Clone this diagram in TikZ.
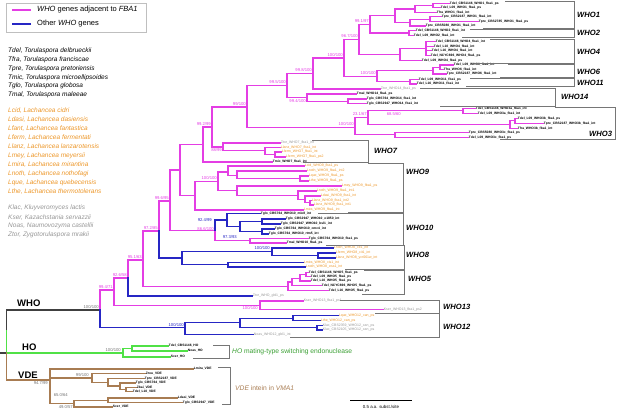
\documentclass[tikz,border=0pt]{standalone}
\usepackage{fontspec}
\setmainfont{Liberation Sans}
\usetikzlibrary{positioning}
\definecolor{fbapink}{RGB}{228,62,228}
\definecolor{whoblue}{RGB}{38,38,196}
\definecolor{hogreen}{RGB}{80,225,70}
\definecolor{vdebrown}{RGB}{168,124,82}
\definecolor{lachorange}{RGB}{236,150,40}
\definecolor{othergray}{RGB}{150,150,150}
\definecolor{boxgray}{RGB}{118,118,118}
\tikzstyle{fbabranch}=[draw=fbapink, line width=1.3pt, line cap=rect]
\tikzstyle{otherbranch}=[draw=whoblue, line width=1.3pt, line cap=rect]
\tikzstyle{hobranch}=[draw=hogreen, line width=1.3pt, line cap=rect]
\tikzstyle{vdebranch}=[draw=vdebrown, line width=1.3pt, line cap=rect]
\tikzstyle{stem}=[draw=black!75, line width=1.3pt, line cap=rect]
\tikzstyle{leaf}=[anchor=west, inner sep=0.7pt, text=black, font=\fontsize{3.3}{4}\selectfont\bfseries]
\tikzstyle{lach}=[text=lachorange, font=\fontsize{3.5}{4}\selectfont]
\tikzstyle{outg}=[text=othergray, font=\fontsize{3.5}{4}\selectfont]
\tikzstyle{support}=[anchor=south east, inner sep=0pt, font=\fontsize{4.2}{4.5}\selectfont]
\tikzstyle{pinkval}=[text=fbapink]
\tikzstyle{blueval}=[text=whoblue]
\tikzstyle{grayval}=[text=black!55]
\tikzstyle{cladebox}=[draw=boxgray, line width=0.9pt]
\tikzstyle{cladename}=[anchor=west, inner sep=0pt, font=\fontsize{7.6}{8}\selectfont\bfseries\itshape]
\tikzstyle{bigname}=[anchor=west, inner sep=0pt, font=\fontsize{9.5}{10}\selectfont\bfseries]
\tikzstyle{keytext}=[anchor=west, inner sep=0pt, font=\fontsize{7.5}{8}\selectfont]
\tikzstyle{species}=[anchor=west, inner sep=0pt, font=\fontsize{6.5}{7}\selectfont\itshape]

\begin{document}
\begin{tikzpicture}[x=1pt,y=-1pt]
\useasboundingbox (0,0) rectangle (617,411);

\draw[draw=black!25, line width=0.6pt] (6,3) rectangle (146,32);
\begin{scope}[every node/.style={keytext}]
    \node (keyfba) at (37,10) {\textit{WHO} genes adjacent to \textit{FBA1}};
    \node (keyother) at (37,24) {Other \textit{WHO} genes};
\end{scope}
\draw[fbabranch, line cap=butt] ([xshift=-6pt]keyfba.west) -- ++(-19,0);
\draw[otherbranch, line cap=butt] ([xshift=-6pt]keyother.west) -- ++(-19,0);

\begin{scope}[every node/.style={species}]
    \node (sp1) at (8,51) {Tdel, Torulaspora delbrueckii};
    \node (sp2) at (8,59.8) {Tfra, Torulaspora franciscae};
    \node (sp3) at (8,68.6) {Tpre, Torulaspora pretoriensis};
    \node (sp4) at (8,77.4) {Tmic, Torulaspora microellipsoides};
    \node (sp5) at (8,86.2) {Tglo, Torulaspora globosa};
    \node (sp6) at (8,95) {Tmal, Torulaspora maleeae};
\end{scope}
\begin{scope}[every node/.style={species, text=lachorange}]
    \node (sp7) at (8,111) {Lcid, Lachancea cidri};
    \node (sp8) at (8,120) {Ldasi, Lachancea dasiensis};
    \node (sp9) at (8,129) {Lfant, Lachancea fantastica};
    \node (sp10) at (8,138) {Lferm, Lachancea fermentati};
    \node (sp11) at (8,147) {Llanz, Lachancea lanzarotensis};
    \node (sp12) at (8,156) {Lmey, Lachancea meyersii};
    \node (sp13) at (8,165) {Lmira, Lachancea mirantina};
    \node (sp14) at (8,174) {Lnoth, Lachancea nothofagi};
    \node (sp15) at (8,183) {Lque, Lachancea quebecensis};
    \node (sp16) at (8,192) {Lthe, Lachancea thermotolerans};
\end{scope}
\begin{scope}[every node/.style={species, text=othergray}]
    \node (sp17) at (8,208.3) {Klac, Kluyveromyces lactis};
    \node (sp18) at (8,217.3) {Kser, Kazachstania servazzii};
    \node (sp19) at (8,226.3) {Noas, Naumovozyma castellii};
    \node (sp20) at (8,235.3) {Ztor, Zygotorulaspora mrakii};
\end{scope}

\coordinate (root) at (0,353);
\coordinate (rwh) at (6.5,331);
\coordinate (rvde) at (6.5,353);
\coordinate (nwho) at (100,310);
\coordinate (nho) at (123,353);
\coordinate (nhob) at (132,348.5);
\coordinate (v0) at (50,380);
\coordinate (v2) at (92,378);
\coordinate (v3) at (108,382.5);
\coordinate (v3b) at (120,386);
\coordinate (v3c) at (126,389.4);
\coordinate (v4) at (74,403.5);
\coordinate (v5) at (108,400.2);
\coordinate (b1) at (114,290);
\coordinate (b2) at (128,278);
\coordinate (b3) at (143,260);
\coordinate (b4) at (159,231);
\coordinate (b5) at (170,201);
\coordinate (b6) at (180,170);
\coordinate (b7) at (195,195.7);
\coordinate (x203) at (203,144.5);
\coordinate (x212) at (212,127);
\coordinate (t0) at (247,107);
\coordinate (t1) at (287,85.5);
\coordinate (t2) at (313,73.5);
\coordinate (t3) at (344,58);
\coordinate (t4) at (359,39.5);
\coordinate (t6) at (370,24.4);
\coordinate (t5) at (377,76.3);
\coordinate (w1) at (395,15.7);
\coordinate (w1a) at (415,8.9);
\coordinate (w1c) at (433,5.7);
\coordinate (w1b) at (410,22.5);
\coordinate (w1e) at (430,19.2);
\coordinate (w2) at (409,33);
\coordinate (w4) at (400,54.7);
\coordinate (w4a) at (426,48.6);
\coordinate (w6) at (433,70.6);
\coordinate (w6a) at (440,67.2);
\coordinate (w11) at (410,81.7);
\coordinate (w14) at (307,97.6);
\coordinate (w14a) at (348,101.4);
\coordinate (w3) at (355,127.5);
\coordinate (w3p) at (368,117.6);
\coordinate (w3a) at (463,110.8);
\coordinate (w3b) at (510,124.5);
\coordinate (w3bb) at (515,120.8);
\coordinate (w3c) at (395,134.8);
\coordinate (w7a) at (223,147);
\coordinate (w7b) at (265,150.7);
\coordinate (w7c) at (275,154.5);
\coordinate (w9) at (218,181.5);
\coordinate (w9a) at (228,172);
\coordinate (w9c) at (237,175.6);
\coordinate (w9d) at (300,178.5);
\coordinate (w9b) at (237,190.6);
\coordinate (w9e) at (298,195.2);
\coordinate (w9f) at (305,199.4);
\coordinate (w9g) at (310,202.7);
\coordinate (w10) at (215,230.3);
\coordinate (w10b) at (227,220);
\coordinate (w10c) at (240,226.5);
\coordinate (w10d) at (262,221.5);
\coordinate (w10e) at (262,231.5);
\coordinate (w10m) at (250,240.7);
\coordinate (w8) at (182,258);
\coordinate (w8a) at (272,251.5);
\coordinate (w8c) at (318,255.5);
\coordinate (w8b) at (228,264.7);
\coordinate (w5) at (288,286.5);
\coordinate (w5a) at (292,282);
\coordinate (w5b) at (300,278.2);
\coordinate (w5c) at (306,274.5);
\coordinate (w13) at (260,305.2);
\coordinate (w12) at (185,327.5);
\coordinate (w12a) at (240,322.5);
\coordinate (w12b) at (293,318.2);
\coordinate (w12c) at (317,327.6);

\begin{scope}[every node/.style={leaf}]
    \node (l1a) at (449,3.5) {Tdel\_CBS1146\_WHO1\_fba1\_ps};
    \node (l1b) at (440,7.8) {Tdel\_L09\_WHO1\_fba1\_ps};
    \node (l1c) at (436,12.2) {Tfra\_WHO1\_fba1\_int};
    \node (l1d) at (441,16.8) {Tpre\_CBS2187\_WHO1\_fba1\_int};
    \node (l1e) at (478,21.5) {Tpre\_CBS2785\_WHO1\_fba1\_ps};
    \node (l1f) at (425,26) {Tpre\_CBS5080\_WHO1\_fba1\_int};
    \node (l2a) at (415,30.7) {Tdel\_CBS1146\_WHO2\_fba1\_int};
    \node (l2b) at (413,35.3) {Tdel\_L09\_WHO2\_fba1\_int};
    \node (l4a) at (435,41.7) {Tdel\_CBS1146\_WHO4\_fba1\_int};
    \node (l4b) at (433,46.2) {Tdel\_L10\_WHO4\_fba1\_int};
    \node (l4c) at (431,50.8) {Tdel\_L16\_WHO4\_fba1\_int};
    \node (l4d) at (430,55.5) {Tdel\_NCYC696\_WHO4\_fba1\_ps};
    \node (l4e) at (421,60.8) {Tdel\_L09\_WHO4\_fba1\_ps};
    \node (l6a) at (453,65) {Tdel\_L09\_WHO6\_fba1\_int};
    \node (l6b) at (443,69.5) {Tfra\_WHO6\_fba1\_int};
    \node (l6c) at (446,74) {Tpre\_CBS2187\_WHO6\_fba1\_int};
    \node (l11a) at (418,79.5) {Tdel\_L09\_WHO11\_fba1\_ps};
    \node (l11b) at (416,84) {Tdel\_L16\_WHO11\_fba1\_int};
    \node[outg] (l14a) at (380,89) {Ztor\_WHO14\_fba1\_ps};
    \node (l14b) at (356,94) {Tmal\_WHO14\_fba1\_ps};
    \node (l14c) at (366,99) {Tglo\_CBS764\_WHO14\_fba1\_int};
    \node (l14d) at (366,103.7) {Tglo\_CBS2947\_WHO14\_fba1\_int};
    \node (l3a) at (475,108.3) {Tdel\_CBS1146\_WHO3a\_fba1\_int};
    \node (l3b) at (477,113.3) {Tdel\_L09\_WHO3a\_fba1\_int};
    \node (l3c) at (517,118.3) {Tdel\_L09\_WHO3b\_fba1\_ps};
    \node (l3d) at (543,123.3) {Tpre\_CBS2187\_WHO3b\_fba1\_int};
    \node (l3e) at (517,128.3) {Tfra\_WHO3b\_fba1\_int};
    \node (l3f) at (468,132.3) {Tpre\_CBS5080\_WHO3c\_fba1\_ps};
    \node (l3g) at (468,137.3) {Tdel\_L09\_WHO3c\_fba1\_ps};
    \node[outg] (l7a) at (280,143) {Ztor\_WHO7\_fba1\_int};
    \node[lach] (l7b) at (280,147.5) {Llanz\_WHO7\_fba1\_int};
    \node[lach] (l7c) at (281,152) {Lferm\_WHO7\_fba1\_int};
    \node[lach] (l7d) at (285,157) {Lferm\_WHO7\_fba1\_ps2};
    \node (l7e) at (272,162) {Tmic\_WHO7\_fba1\_int};
    \node[lach] (l9a) at (304,166) {Lcid\_WHO9\_fba1\_ps};
    \node[lach] (l9b) at (306,171) {Lnoth\_WHO9\_fba1\_int2};
    \node[lach] (l9c) at (308,176) {Lque\_WHO9\_fba1\_ps};
    \node[lach] (l9d) at (308,181) {Lthe\_WHO9\_fba1\_ps};
    \node[lach] (l9e) at (341,186) {Lmey\_WHO9\_fba1\_ps};
    \node[lach] (l9f) at (316,191) {Lnoth\_WHO9\_fba1\_int1};
    \node[lach] (l9g) at (320,196) {Ldasi\_WHO9\_fba1\_int};
    \node[lach] (l9h) at (311,200.5) {Llanz\_WHO9\_fba1\_int2};
    \node[lach] (l9i) at (313,205) {Llanz\_WHO9\_fba1\_int1};
    \node[lach] (l9j) at (303,210) {Lmira\_WHO9\_fba1\_int};
    \node (l10a) at (260,213.3) {Tglo\_CBS764\_WHO10\_mle8\_int};
    \node (l10b) at (285,219) {Tglo\_CBS2947\_WHO10\_e1850\_int};
    \node (l10c) at (280,224) {Tglo\_CBS2947\_WHO10\_bsl1\_int};
    \node (l10d) at (274,229) {Tglo\_CBS764\_WHO10\_cmc4\_int};
    \node (l10e) at (268,234) {Tglo\_CBS764\_WHO10\_rtm5\_int};
    \node (l10f) at (308,238.5) {Tglo\_CBS764\_WHO10\_fba1\_ps};
    \node (l10g) at (286,243) {Tmal\_WHO10\_fba1\_ps};
    \node[lach] (l8a) at (333,248) {Lnoth\_WHO8\_cit1\_int};
    \node[lach] (l8b) at (335,253) {Lferm\_WHO8\_cit1\_int};
    \node[lach] (l8c) at (335,258) {Llanz\_WHO8\_ycr061w\_int};
    \node[lach] (l8d) at (303,262.5) {Lmira\_WHO8\_cis1\_int};
    \node[lach] (l8e) at (305,267) {Lnoth\_WHO8\_ess1\_int};
    \node (l5a) at (308,272.3) {Tdel\_CBS1146\_WHO5\_fba1\_ps};
    \node (l5b) at (310,276.7) {Tdel\_L09\_WHO5\_fba1\_ps};
    \node (l5c) at (310,281) {Tdel\_L10\_WHO5\_fba1\_ps};
    \node (l5d) at (321,285.7) {Tdel\_NCYC696\_WHO5\_fba1\_ps};
    \node (l5e) at (328,290.7) {Tdel\_L16\_WHO5\_fba1\_ps};
    \node[outg] (lgbl) at (252,296) {Ztor\_WHO\_gbl1\_ps};
    \node[outg] (l13a) at (303,301) {Kser\_WHO13\_fba1\_ps1};
    \node[outg] (l13b) at (383,309.5) {Kser\_WHO13\_fba1\_ps2};
    \node[lach] (l12a) at (338,315.7) {Lque\_WHO12\_can\_ps};
    \node[lach] (l12b) at (320,320.7) {Lthe\_WHO12\_can\_ps};
    \node[outg] (l12c) at (322,325.3) {Klac\_CBS2359\_WHO12\_can\_ps};
    \node[outg] (l12d) at (322,330) {Klac\_CBS2105\_WHO12\_can\_ps};
    \node[outg] (l12e) at (253,334.5) {Noas\_WHO12\_gbl1\_int};
    \node (lho1) at (168,346) {Tdel\_CBS1146\_HO};
    \node (lho2) at (187,351) {Noas\_HO};
    \node (lho3) at (170,357) {Scer\_HO};
    \node (lv1) at (193,369) {Lmira\_VDE};
    \node (lv2) at (145,373.5) {Zrou\_VDE};
    \node (lv3) at (144,378.3) {Tpre\_CBS2187\_VDE};
    \node (lv4) at (135,383) {Tglo\_CBS764\_VDE};
    \node (lv5) at (136,387.3) {Zbai\_VDE};
    \node (lv6) at (132,391.5) {Tdel\_L10\_VDE};
    \node (lv7) at (177,398) {Ldasi\_VDE};
    \node (lv8) at (182,402.5) {Tglo\_CBS2947\_VDE};
    \node (lv9) at (112,407) {Scer\_VDE};
\end{scope}

\begin{scope}[every path/.style={stem}]
    \path (root) -- (rvde);
    \path (rwh) |- (nwho);
\end{scope}

\begin{scope}[every path/.style={fbabranch}]
    \path (nwho) |- (b1);
    \path (b1) |- (b2) (b1) |- (w13);
    \path (b2) |- (b3);
    \path (b3) |- (b4) (b3) |- (w5);
    \path (b4) |- (b5);
    \path (b5) |- (b6) (b5) |- (w10);
    \path (b6) |- (x203) (b6) |- (b7);
    \path (b7) |- (w9) (b7) |- (l9j);
    \path (x203) |- (x212) (x203) |- (l7e);
    \path (x212) |- (t0) (x212) |- (w7a);
    \path (t0) |- (t1) (t0) |- (w3);
    \path (t1) |- (t2) (t1) |- (w14);
    \path (t2) |- (t3) (t2) |- (l14a);
    \path (t3) |- (t4) (t3) |- (t5);
    \path (t4) |- (t6) (t4) |- (w4);
    \path (t6) |- (w1) (t6) |- (w2);
    \path (w1) |- (w1a) (w1) |- (w1b);
    \path (w1a) |- (w1c) (w1a) |- (l1c);
    \path (w1c) |- (l1a) (w1c) |- (l1b);
    \path (w1b) |- (w1e) (w1b) |- (l1f);
    \path (w1e) |- (l1d) (w1e) |- (l1e);
    \path (w2) |- (l2a) (w2) |- (l2b);
    \path (w4) |- (w4a) (w4) |- (l4e);
    \path (w4a) |- (l4a) (w4a) |- (l4b) (w4a) |- (l4c) (w4a) |- (l4d);
    \path (t5) |- (w6) (t5) |- (w11);
    \path (w6) |- (w6a) (w6) |- (l6c);
    \path (w6a) |- (l6a) (w6a) |- (l6b);
    \path (w11) |- (l11a) (w11) |- (l11b);
    \path (w14) |- (l14b) (w14) |- (w14a);
    \path (w14a) |- (l14c) (w14a) |- (l14d);
    \path (w3) |- (w3p) (w3) |- (w3c);
    \path (w3p) |- (w3a) (w3p) |- (w3b);
    \path (w3a) |- (l3a) (w3a) |- (l3b);
    \path (w3b) |- (w3bb) (w3b) |- (l3e);
    \path (w3bb) |- (l3c) (w3bb) |- (l3d);
    \path (w3c) |- (l3f) (w3c) |- (l3g);
    \path (w7a) |- (l7a) (w7a) |- (w7b);
    \path (w7b) |- (l7b) (w7b) |- (w7c);
    \path (w7c) |- (l7c) (w7c) |- (l7d);
    \path (w9) |- (w9a) (w9) |- (w9b);
    \path (w9a) |- (l9a) (w9a) |- (w9c);
    \path (w9c) |- (l9b) (w9c) |- (w9d);
    \path (w9d) |- (l9c) (w9d) |- (l9d);
    \path (w9b) |- (l9e) (w9b) |- (w9e);
    \path (w9e) |- (l9f) (w9e) |- (w9f);
    \path (w9f) |- (l9g) (w9f) |- (w9g);
    \path (w9g) |- (l9h) (w9g) |- (l9i);
    \path (w10) |- (w10m);
    \path (w10m) |- (l10f) (w10m) |- (l10g);
    \path (w5) |- (w5a) (w5) |- (l5e);
    \path (w5a) |- (w5b) (w5a) |- (l5d);
    \path (w5b) |- (w5c) (w5b) |- (l5c);
    \path (w5c) |- (l5a) (w5c) |- (l5b);
    \path (w13) |- (l13a) (w13) |- (l13b);
\end{scope}

\begin{scope}[every path/.style={otherbranch}]
    \path (nwho) |- (w12);
    \path (w12) |- (w12a) (w12) |- (l12e);
    \path (w12a) |- (w12b) (w12a) |- (w12c);
    \path (w12b) |- (l12a) (w12b) |- (l12b);
    \path (w12c) |- (l12c) (w12c) |- (l12d);
    \path (b2) |- (lgbl);
    \path (b4) |- (w8);
    \path (w8) |- (w8a) (w8) |- (w8b);
    \path (w8a) |- (l8a) (w8a) |- (w8c);
    \path (w8c) |- (l8b) (w8c) |- (l8c);
    \path (w8b) |- (l8d) (w8b) |- (l8e);
    \path (w10) |- (w10b);
    \path (w10b) |- (l10a) (w10b) |- (w10c);
    \path (w10c) |- (w10d) (w10c) |- (w10e);
    \path (w10d) |- (l10b) (w10d) |- (l10c);
    \path (w10e) |- (l10d) (w10e) |- (l10e);
\end{scope}

\begin{scope}[every path/.style={hobranch}]
    \path (rwh) |- (nho);
    \path (nho) |- (nhob) (nho) |- (lho3);
    \path (nhob) |- (lho1) (nhob) |- (lho2);
\end{scope}

\begin{scope}[every path/.style={vdebranch}]
    \path (rvde) |- (v0);
    \path (v0) |- (lv1) (v0) |- (v2) (v0) |- (v4);
    \path (v2) |- (lv2) (v2) |- (v3);
    \path (v3) |- (lv3) (v3) |- (v3b);
    \path (v3b) |- (lv4) (v3b) |- (v3c);
    \path (v3c) |- (lv5) (v3c) |- (lv6);
    \path (v4) |- (v5) (v4) |- (lv9);
    \path (v5) |- (lv7) (v5) |- (lv8);
\end{scope}

\begin{scope}[every node/.style={support}]
    \node[grayval] (s1) at (99,308.5) {100/100};
    \node[pinkval] (s2) at (113,288.5) {99.4/71};
    \node[pinkval] (s3) at (127,276.5) {92.6/58};
    \node[pinkval] (s4) at (142,258.5) {95.1/63};
    \node[pinkval] (s5) at (158,229.5) {97.2/85};
    \node[pinkval] (s6) at (169,199.5) {99.6/95};
    \node[pinkval] (s7) at (211,125.5) {99.2/99};
    \node[pinkval, anchor=north east] (s8) at (222,148.2) {88/99};
    \node[pinkval] (s9) at (246,105.5) {99/100};
    \node[pinkval] (s10) at (286,84) {99.5/100};
    \node[pinkval] (s11) at (312,72) {99.8/100};
    \node[pinkval, anchor=north east] (s12) at (306,99) {99.4/100};
    \node[pinkval] (s13) at (343,56.5) {100/100};
    \node[pinkval] (s14) at (358,38) {96.7/100};
    \node[pinkval] (s15) at (369,23) {99.1/97};
    \node[pinkval] (s16) at (376,74.8) {100/100};
    \node[pinkval] (s17) at (354,126) {100/100};
    \node[pinkval] (s18) at (367,116.2) {23.1/67};
    \node[pinkval, anchor=north east] (s19) at (401,111.8) {68.5/60};
    \node[pinkval] (s20) at (217,180) {100/100};
    \node[pinkval] (s21) at (214,230.5) {86.6/100};
    \node[blueval] (s22) at (212,221.5) {92.4/99};
    \node[blueval] (s23) at (237,238.5) {97.3/93};
    \node[blueval] (s24) at (270,250) {100/100};
    \node[pinkval, anchor=north east] (s25) at (258,306.4) {100/100};
    \node[blueval] (s26) at (184,326.3) {100/100};
    \node[grayval] (s27) at (121,351.5) {100/100};
    \node[grayval, anchor=north east] (s28) at (48,381.5) {94.7/99};
    \node[grayval] (s29) at (89,377) {99/100};
    \node[grayval] (s30) at (68,396.5) {65.0/64};
    \node[grayval] (s31) at (73,408.5) {49.0/57};
\end{scope}

\begin{scope}[every path/.style={cladebox}]
    \path (505,1) -| (574,28) -- (483,28);
    \path (470,29.3) -| (574,37.5) -- (462,37.5);
    \path (490,39.3) -| (574,63) -- (475,63);
    \path (508,64.5) -| (574,77) -- (500,77);
    \path (470,78.4) -| (574,86.3) -- (466,86.3);
    \path (420,88) -| (555,106) -- (440,106);
    \path (555,107) -| (615,139.5) -- (500,139.5);
    \path (312,140) -| (368,162.8) -- (303,162.8);
    \path (368,163.4) -| (403,212.2) -- (348,212.2);
    \path (318,213) -| (403,245) -- (326,245);
    \path (345,245.6) -| (404,269.5) -- (345,269.5);
    \path (364,270.1) -| (404,294.2) -- (362,294.2);
    \path (340,300) -| (439,313.3) -- (375,313.3);
    \path (375,313.8) -| (439,337) -- (290,337);
    \path (213,345) -| (229,358.3) -- (193,358.3);
    \path (218,367.8) -| (230,404.3) -- (222,404.3);
\end{scope}

\begin{scope}[every node/.style={cladename}]
    \node (c1) at (577,14.5) {WHO1};
    \node (c2) at (577,33.3) {WHO2};
    \node (c4) at (577,52) {WHO4};
    \node (c6) at (577,71.5) {WHO6};
    \node (c11) at (577,82.5) {WHO11};
    \node (c14) at (561,97) {WHO14};
    \node (c3) at (589,134) {WHO3};
    \node (c7) at (374,150.5) {WHO7};
    \node (c9) at (406,172) {WHO9};
    \node (c10) at (406,228) {WHO10};
    \node (c8) at (406,255) {WHO8};
    \node (c5) at (408,279) {WHO5};
    \node (c13) at (443,307) {WHO13};
    \node (c12) at (443,327) {WHO12};
\end{scope}

\begin{scope}[every node/.style={bigname}]
    \node (gwho) at (17,303.5) {WHO};
    \node (gho) at (22,347) {HO};
    \node (gvde) at (18,375.5) {VDE};
\end{scope}
\node[anchor=west, inner sep=0pt, text=hogreen!70!black, font=\fontsize{6.7}{7}\selectfont] (holab) at (232,352) {\textit{HO} mating-type switching endonuclease};
\node[anchor=west, inner sep=0pt, text=vdebrown, font=\fontsize{6.7}{7}\selectfont] (vdelab) at (235,388) {\textit{VDE} intein in \textit{VMA1}};

\coordinate (scl) at (350,400);
\draw[line width=1pt] (scl) -- ++(62,0);
\node[inner sep=0pt, font=\fontsize{4.4}{5}\selectfont] (sclab) at (381,406.5) {0.5 a.a. subst./site};
\end{tikzpicture}
\end{document}
